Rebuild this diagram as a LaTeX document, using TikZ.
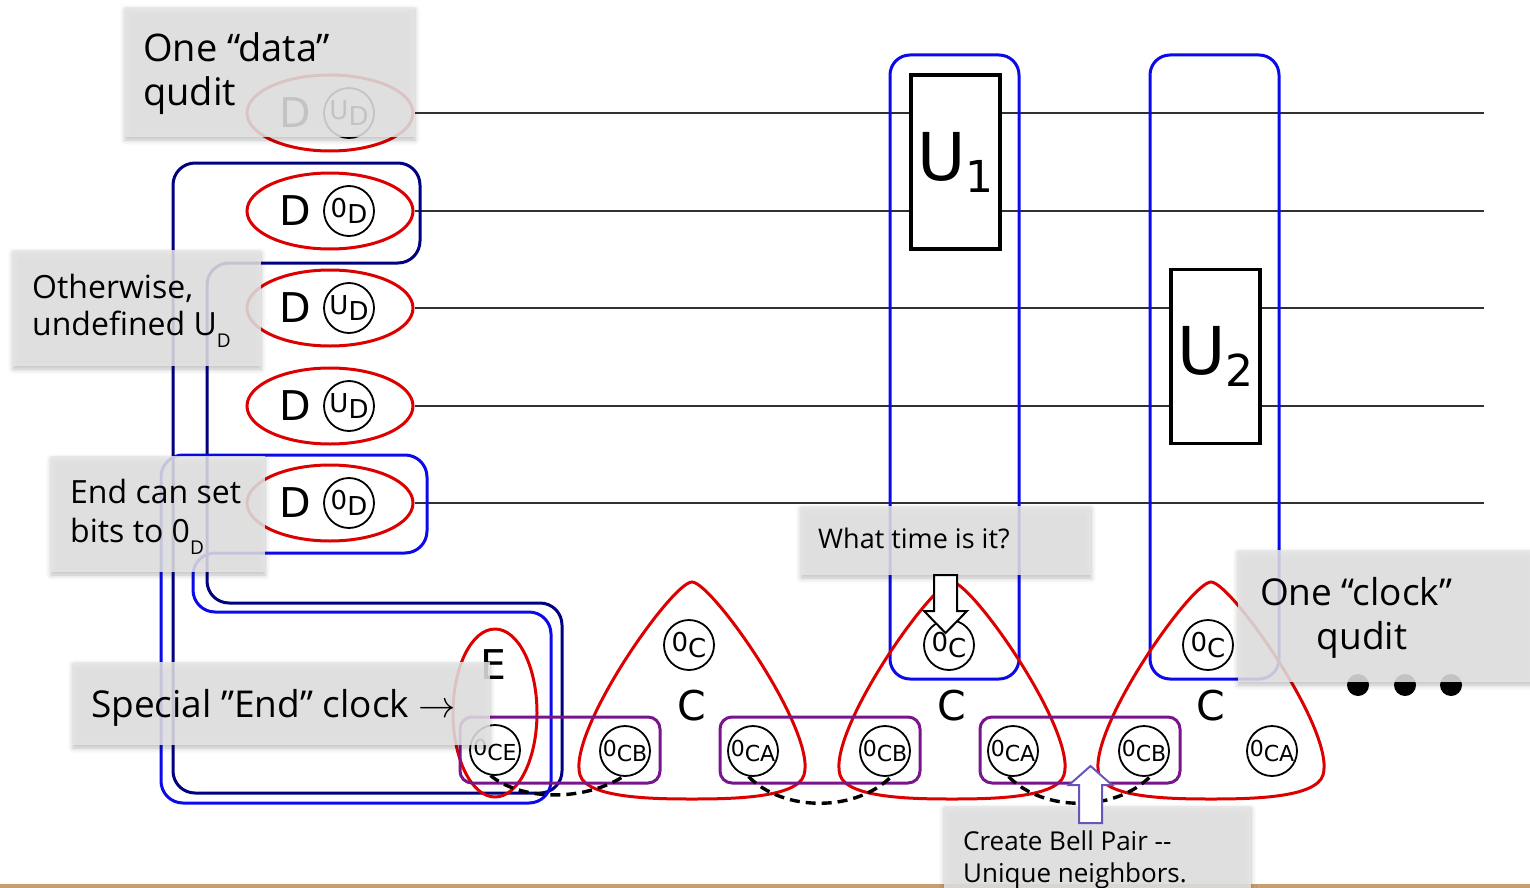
\documentclass[tikz,border=0pt]{standalone}
\usepackage{fontspec}
\usepackage{graphicx}
\usetikzlibrary{shapes.geometric,shadows.blur}
\newfontfamily\circfont{DejaVu Sans}
\newfontfamily\notefont{Open Sans}
\definecolor{qred}{RGB}{221,0,0}
\definecolor{qblue}{RGB}{10,10,235}
\definecolor{qnavy}{RGB}{0,0,128}
\definecolor{qpurple}{RGB}{120,20,140}
\definecolor{qviolet}{RGB}{105,85,185}
\definecolor{qtan}{RGB}{200,160,112}
\definecolor{qwire}{RGB}{50,50,50}
\definecolor{notebg}{RGB}{230,230,230}
% state label with lowered index, e.g. 0 with C below
\newcommand\qsub[2]{#1\raisebox{-0.25em}{#2}}
% small subscript inside the notes
\newcommand\notesub[1]{\raisebox{-0.38em}{\fontsize{19}{19}\selectfont #1}}
\begin{document}
\begin{tikzpicture}[x=1pt,y=-1pt,
  wire/.style={draw=qwire, line width=1.5pt},
  dataq/.style={ellipse, draw=qred, line width=3pt, minimum width=166pt, minimum height=76pt, inner sep=0pt},
  bigl/.style={font=\circfont\fontsize{41}{41}\selectfont, inner sep=0pt},
  qc/.style={circle, draw=black, line width=1.8pt, minimum size=50pt, inner sep=0pt, font=\circfont\fontsize{26}{26}\selectfont},
  qcs/.style={qc, font=\circfont\fontsize{22}{22}\selectfont},
  gate/.style={draw=black, line width=3.5pt, fill=white, minimum width=89pt, minimum height=174pt, inner sep=0pt, font=\circfont\fontsize{66}{66}\selectfont},
  group/.style={draw=qblue, line width=3pt, rounded corners=20pt, minimum width=129pt, minimum height=624pt},
  link/.style={draw=qpurple, line width=3pt, rounded corners=12pt, minimum width=200pt, minimum height=66pt},
  bell/.style={draw=black, line width=3.4pt, dash pattern=on 10pt off 6pt},
  note/.style={fill=notebg, fill opacity=0.85, inner sep=0pt,
    blur shadow={shadow xshift=0pt, shadow yshift=-3pt, shadow blur radius=5pt, shadow opacity=30}},
  notetext/.style={inner sep=0pt, anchor=base west, text=black},
  clockbody/.pic={
    \draw[qred, line width=3pt] (0,0) .. controls (-20,0) and (-125,150) .. (-112,193)
      .. controls (-105,216) and (-40,217) .. (0,217)
      .. controls (40,217) and (105,216) .. (112,193)
      .. controls (125,150) and (20,0) .. (0,0) -- cycle;}
]
\useasboundingbox (0,0) rectangle (1530,888);

% bottom rule
\fill[qtan] (0,884) rectangle (1530,888);

% data qudits and their wires
\foreach \i/\y/\s in {1/113/U, 2/211/0, 3/308/U, 4/406/U, 5/503/0}{
  \node[dataq] (q\i) at (330,\y) {};
  \node[bigl] (d\i) at (295,\y) {D};
  \node[qc] (s\i) at (349,\y) {\qsub{\s}{D}};
  \coordinate (w\i) at (1484,\y);
  \draw[wire] (q\i.east) -- (w\i);
}

% time steps: gate groups and gates
\node[group] (grp1) at (954.5,367) {};
\node[group] (grp2) at (1214.5,367) {};
\node[gate] (u1) at (955.5,162) {U\raisebox{-12pt}{\fontsize{44}{44}\selectfont 1}};
\node[gate] (u2) at (1215.5,356.5) {U\raisebox{-12pt}{\fontsize{44}{44}\selectfont 2}};

% regions touched by the end clock
\draw[qnavy, line width=3pt, rounded corners=22pt] (173,163) -- (420,163) -- (420,263) -- (207,263)
  -- (207,603) -- (562,603) -- (562,793) -- (173,793) -- cycle;
\draw[qblue, line width=3pt, rounded corners=22pt] (161,455) -- (427,455) -- (427,553) -- (193,553)
  -- (193,612) -- (551,612) -- (551,803) -- (161,803) -- cycle;

% end clock
\node[ellipse, draw=qred, line width=3pt, minimum width=84pt, minimum height=168pt, inner sep=0pt] (ec) at (495,713) {};
\node[bigl] (el) at (493,665) {E};
\node[qcs] (ce) at (495,750) {\qsub{0}{CE}};

% clock qudits
\foreach \i/\cx in {1/692, 2/952, 3/1211}{
  \pic at (\cx,582) {clockbody};
  \node[bigl] (cl\i) at (\cx,706) {C};
  \node[qc] (c\i) at (\cx-3,645) {\qsub{0}{C}};
  \node[qcs] (cb\i) at (\cx-67,751) {\qsub{0}{CB}};
  \node[qcs] (ca\i) at (\cx+61,751) {\qsub{0}{CA}};
}

% neighbouring pairs
\node[link] (p1) at (560,750) {};
\node[link] (p2) at (820,750) {};
\node[link] (p3) at (1080,750) {};

% Bell pairs
\draw[bell] (ce.-100) .. controls +(30,25) and +(-40,25) .. (cb1.-95);
\draw[bell] (ca1.-100) .. controls +(35,36) and +(-35,36) .. (cb2.-75);
\draw[bell] (ca2.-100) .. controls +(35,36) and +(-35,36) .. (cb3.-75);

% more clocks follow
\fill (1358,685) circle (11pt);
\fill (1405,685) circle (11pt);
\fill (1451,685) circle (11pt);

% notes
\node[note, minimum width=290pt, minimum height=130pt] (ndata) at (270,72) {};
\node[notetext, font=\notefont\fontsize{38}{38}\selectfont] (ndata1) at (143,62) {One “data”};
\node[notetext, font=\notefont\fontsize{38}{38}\selectfont] (ndata2) at (143,106) {qudit};

\node[note, minimum width=248pt, minimum height=116pt] (nother) at (137,308) {};
\node[notetext, font=\notefont\fontsize{32}{32}\selectfont] (nother1) at (32,298) {Otherwise,};
\node[notetext, font=\notefont\fontsize{32}{32}\selectfont] (nother2) at (32,335) {undefined U\notesub{D}};

\node[note, minimum width=214pt, minimum height=116pt] (nend) at (158,514) {};
\node[notetext, font=\notefont\fontsize{32}{32}\selectfont] (nend1) at (70,503) {End can set};
\node[notetext, font=\notefont\fontsize{32}{32}\selectfont] (nend2) at (70,542) {bits to 0\notesub{D}};

\node[note, minimum width=417pt, minimum height=83pt] (nspec) at (281.5,703.5) {};
\node[notetext, font=\notefont\fontsize{37}{37}\selectfont] (nspec1) at (91,717) {Special ”End” clock \scalebox{1.5}{$\rightarrow$}};

\node[note, minimum width=290pt, minimum height=69pt] (ntime) at (946,540.5) {};
\node[notetext, font=\notefont\fontsize{27}{27}\selectfont] (ntime1) at (818,548) {What time is it?};

\node[note, minimum width=296pt, minimum height=132pt] (nclock) at (1386,616) {};
\node[inner sep=0pt, anchor=base, font=\notefont\fontsize{37}{37}\selectfont] (nclock1) at (1356,605) {One “clock”};
\node[inner sep=0pt, anchor=base, font=\notefont\fontsize{37}{37}\selectfont] (nclock2) at (1362,649) {qudit};

\node[note, minimum width=307pt, minimum height=86pt] (nbell) at (1097.5,849) {};
\node[notetext, font=\notefont\fontsize{26}{26}\selectfont] (nbell1) at (963,850) {Create Bell Pair -{}-};
\node[notetext, font=\notefont\fontsize{26}{26}\selectfont] (nbell2) at (963,882) {Unique neighbors.};

% pointer arrows
\draw[black, line width=2pt, fill=white, line join=miter]
  (934,575) -- (957,575) -- (957,611) -- (967,611) -- (945.5,633) -- (924,611) -- (934,611) -- cycle;
\draw[qviolet, line width=2pt, fill=white, line join=miter]
  (1079,823) -- (1102,823) -- (1102,785) -- (1112,785) -- (1090.5,766) -- (1069,785) -- (1079,785) -- cycle;
\end{tikzpicture}
\end{document}
